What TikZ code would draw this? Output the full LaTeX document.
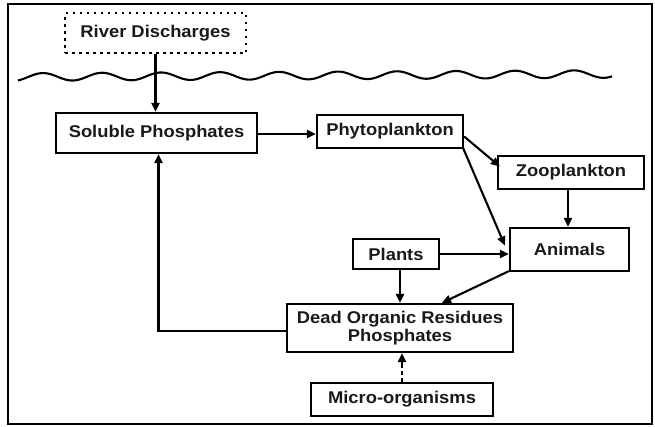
\documentclass[tikz,border=0pt]{standalone}
\usepackage{fontspec}
\newfontfamily\lblfont{Liberation Sans}[FakeStretch=1.08]
\usetikzlibrary{arrows.meta,calc}
\begin{document}
\begin{tikzpicture}[x=1pt,y=-1pt,
  box/.style={draw=black,line width=2.3pt,rectangle,inner sep=0pt,align=center,
    font=\lblfont\bfseries\fontsize{17}{18.5}\selectfont,text=black!90},
  arr/.style={line width=2.1pt,-{Triangle[length=9pt,width=8pt]}},
  dotbox/.style={box,line width=2.5pt,dash pattern=on 2.5pt off 4.5pt}
]
\useasboundingbox (0,0) rectangle (655,426);
\draw[line width=2.5pt] (8,4) rectangle (652,424);
% water surface
\draw[line width=2.1pt] plot[domain=18:612,samples=400,smooth]
  (\x,{77-0.00505*(\x-18)-3.8*cos(6.1017*(\x-43))});
% nodes
\node[dotbox,minimum width=181pt,minimum height=40pt] (river) at (155.5,33) {River Discharges};
\node[box,minimum width=201pt,minimum height=40pt] (sol) at (156.5,133) {Soluble Phosphates};
\node[box,minimum width=146pt,minimum height=33pt] (phyto) at (390,131.5) {Phytoplankton};
\node[box,minimum width=146pt,minimum height=33pt] (zoo) at (571,172.5) {Zooplankton};
\node[box,minimum width=119pt,minimum height=43pt] (anim) at (569.5,249.5) {Animals};
\node[box,minimum width=86pt,minimum height=30pt] (plants) at (396,254) {Plants};
\node[box,minimum width=226pt,minimum height=48pt] (dead) at (400,328) {Dead Organic Residues\\Phosphates};
\node[box,minimum width=182pt,minimum height=33pt] (micro) at (402,399.5) {Micro-organisms};
% helper coordinates
\coordinate (zs) at ($(zoo.south)+(-3,0)$);
\coordinate (md) at (micro.north |- dead.south);
% connectors
\draw[arr] (river.south) -- (river.south |- sol.north);
\draw[arr] ($(sol.east)+(0,1)$) -- ($(sol.east -| phyto.west)+(0,1)$);
\draw[arr] ($(phyto.east)+(0,5)$) -- ($(zoo.west)+(3,-6)$);
\draw[arr] ($(phyto.south east)+(-1,-1)$) -- ($(anim.west)+(-4,-4)$);
\draw[arr] (plants.east) -- (plants.east -| anim.west);
\draw[arr] (zs) -- (zs |- anim.north);
\draw[arr] (plants.south -| dead.north) -- (dead.north);
\draw[arr] ($(anim.south west)+(0,-1)$) -- ($(dead.north)+(42,0)$);
\draw[arr] ($(dead.west)+(0,3)$) -| ($(sol.south)+(2,0)$);
\draw[line width=2.1pt,dash pattern=on 4pt off 3pt] (micro.north) -- ($(md)+(0,9)$);
\draw[arr] ($(md)+(0,11)$) -- (md);
\end{tikzpicture}
\end{document}
